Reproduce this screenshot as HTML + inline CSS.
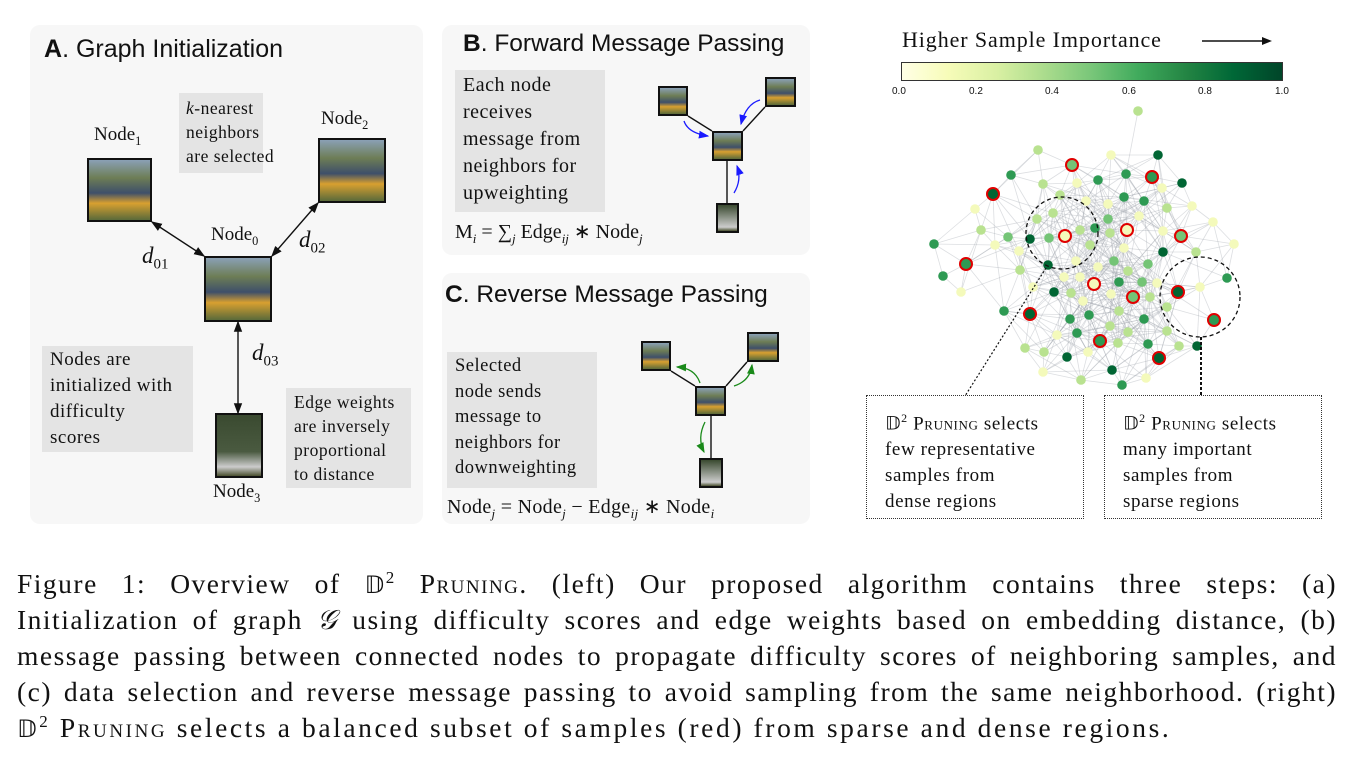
<!DOCTYPE html>
<html><head><meta charset="utf-8"><style>
body{margin:0;width:1353px;height:760px;background:#fff;position:relative;overflow:hidden;font-family:"Liberation Serif",serif;color:#111}
.p{position:absolute;background:#f7f7f7;border-radius:10px}
.a{position:absolute}
.t{position:absolute;font-family:"Liberation Sans",sans-serif;font-size:23.5px;white-space:nowrap}
.g{position:absolute;background:#e4e4e4;font-size:19px;line-height:26px;padding:2px 8px;box-sizing:border-box;white-space:nowrap;letter-spacing:0.5px}
.img{position:absolute;border:2px solid #111;box-sizing:border-box;background:linear-gradient(180deg,#8aa0b5 0%,#6d7d55 30%,#3e4f6a 55%,#d8a030 72%,#5a6a3a 100%)}
.s{font-size:19px;position:absolute;white-space:nowrap}
.d{position:absolute;font-style:italic;font-size:23px}
sub{font-size:65%}
.cap{position:absolute;left:17px;top:566px;width:1320px;font-size:27.5px;line-height:36px;letter-spacing:1.5px}
.cap div{text-align:justify;text-align-last:justify;white-space:nowrap;height:36px;overflow:visible}
.cap sup{line-height:0;vertical-align:0.6em}
.dd{font-family:'DejaVu Sans';font-size:24px;line-height:0}
.sc{font-variant:small-caps}
.box{position:absolute;border:1.5px dotted #333;font-size:19px;line-height:26px;padding:9px 0 0 18px;box-sizing:border-box;white-space:nowrap;letter-spacing:0.6px}
</style></head><body>
<div class="p" style="left:30px;top:25px;width:393px;height:499px"></div>
<div class="p" style="left:442px;top:25px;width:368px;height:230px"></div>
<div class="p" style="left:442px;top:273px;width:368px;height:251px"></div>

<div class="t" style="left:44px;top:35px;font-size:25px"><b>A</b>. Graph Initialization</div>
<div class="t" style="left:463px;top:30px;font-size:24.5px"><b>B</b>. Forward Message Passing</div>
<div class="t" style="left:445px;top:281px;font-size:24.5px"><b>C</b>. Reverse Message Passing</div>

<svg class="a" style="left:0;top:0" width="1353" height="560">
<defs>
<marker id="ak" markerWidth="8" markerHeight="8" refX="7" refY="4" orient="auto-start-reverse"><path d="M0,1 L8,4 L0,7 z" fill="#111"/></marker>
<marker id="ab" markerWidth="8" markerHeight="8" refX="7" refY="4" orient="auto"><path d="M0,1 L8,4 L0,7 z" fill="#1a1aff"/></marker>
<marker id="ag" markerWidth="8" markerHeight="8" refX="7" refY="4" orient="auto"><path d="M0,1 L8,4 L0,7 z" fill="#1a8a1a"/></marker>
</defs>
<g stroke="#111" stroke-width="1.4" fill="none">
<line x1="152" y1="222" x2="204" y2="256" marker-start="url(#ak)" marker-end="url(#ak)"/>
<line x1="318" y1="203" x2="272" y2="256" marker-start="url(#ak)" marker-end="url(#ak)"/>
<line x1="238" y1="322" x2="238" y2="413" marker-start="url(#ak)" marker-end="url(#ak)"/>
<line x1="688" y1="116" x2="712" y2="131"/><line x1="765" y1="107" x2="743" y2="131"/><line x1="727" y1="161" x2="727" y2="203"/>
<line x1="671" y1="371" x2="695" y2="386"/><line x1="747" y1="362" x2="726" y2="386"/><line x1="711" y1="416" x2="711" y2="458"/>
</g>
<g stroke="#1a1aff" stroke-width="1.3" fill="none">
<path d="M684,121 Q688,133 708,136" marker-end="url(#ab)"/>
<path d="M760,100 Q746,104 741,124" marker-end="url(#ab)"/>
<path d="M734,193 Q742,180 737,166" marker-end="url(#ab)"/>
</g>
<g stroke="#1a8a1a" stroke-width="1.3" fill="none">
<path d="M700,383 Q695,368 677,367" marker-end="url(#ag)"/>
<path d="M734,386 Q750,381 752,365" marker-end="url(#ag)"/>
<path d="M705,422 Q697,438 704,452" marker-end="url(#ag)"/>
</g>
</svg>

<div class="img" style="left:87px;top:158px;width:65px;height:64px"></div>
<div class="img" style="left:318px;top:138px;width:68px;height:65px"></div>
<div class="img" style="left:204px;top:256px;width:68px;height:66px"></div>
<div class="img" style="left:215px;top:413px;width:48px;height:65px;background:linear-gradient(#3a4a30,#4a5a40 60%,#ccc 85%,#4a5030)"></div>
<div class="img" style="left:658px;top:86px;width:30px;height:30px"></div>
<div class="img" style="left:765px;top:77px;width:31px;height:30px"></div>
<div class="img" style="left:712px;top:131px;width:31px;height:30px"></div>
<div class="img" style="left:716px;top:203px;width:23px;height:30px;background:linear-gradient(#3a4a30,#ccc 85%,#4a5030)"></div>
<div class="img" style="left:641px;top:341px;width:30px;height:30px"></div>
<div class="img" style="left:747px;top:332px;width:32px;height:30px"></div>
<div class="img" style="left:695px;top:386px;width:31px;height:30px"></div>
<div class="img" style="left:699px;top:458px;width:24px;height:30px;background:linear-gradient(#3a4a30,#ccc 85%,#4a5030)"></div>

<div class="s" style="left:94px;top:124px">Node<sub>1</sub></div>
<div class="s" style="left:321px;top:108px">Node<sub>2</sub></div>
<div class="s" style="left:211px;top:224px">Node<sub>0</sub></div>
<div class="s" style="left:213px;top:481px">Node<sub>3</sub></div>
<div class="d" style="left:142px;top:243px">d<sub style="font-style:normal">01</sub></div>
<div class="d" style="left:299px;top:227px">d<sub style="font-style:normal">02</sub></div>
<div class="d" style="left:252px;top:340px">d<sub style="font-style:normal">03</sub></div>

<div class="g" style="left:179px;top:93px;width:84px;height:80px;font-size:17.5px;line-height:24px;padding:3px 7px"><i>k</i>-nearest<br>neighbors<br>are selected</div>
<div class="g" style="left:42px;top:346px;width:151px;height:106px;line-height:26px;padding-top:1px">Nodes are<br>initialized with<br>difficulty<br>scores</div>
<div class="g" style="left:286px;top:388px;width:125px;height:100px;font-size:17.5px;line-height:24px">Edge weights<br>are inversely<br>proportional<br>to distance</div>
<div class="g" style="left:455px;top:70px;width:150px;height:142px;font-size:20px;line-height:27px">Each node<br>receives<br>message from<br>neighbors for<br>upweighting</div>
<div class="g" style="left:447px;top:352px;width:150px;height:136px;font-size:18.5px;line-height:25.5px">Selected<br>node sends<br>message to<br>neighbors for<br>downweighting</div>
<div class="s" style="left:455px;top:219px;font-size:20px">M<sub><i>i</i></sub> = ∑<sub><i>j</i></sub> Edge<sub><i>ij</i></sub> ∗ Node<sub><i>j</i></sub></div>
<div class="s" style="left:447px;top:494px;font-size:20px;letter-spacing:0.3px">Node<sub><i>j</i></sub> = Node<sub><i>j</i></sub> − Edge<sub><i>ij</i></sub> ∗ Node<sub><i>i</i></sub></div>

<div class="s" style="left:902px;top:27px;font-size:22px;letter-spacing:0.9px">Higher Sample Importance</div>
<svg class="a" style="left:1200px;top:34px" width="75" height="14"><line x1="2" y1="7" x2="66" y2="7" stroke="#111" stroke-width="1.5"/><path d="M62,3 L72,7 L62,11 z" fill="#111"/></svg>
<div class="a" style="left:901px;top:62px;width:382px;height:19px;border:1px solid #333;box-sizing:border-box;background:linear-gradient(90deg,#ffffe5,#f7fcb9 12%,#d9f0a3 25%,#addd8e 37%,#78c679 50%,#41ab5d 62%,#238443 75%,#006837 87%,#004529)"></div>
<div class="a" style="left:0;top:86px;font-family:'Liberation Sans',sans-serif;font-size:10px">
<span class="a" style="left:892px">0.0</span><span class="a" style="left:969px">0.2</span><span class="a" style="left:1045px">0.4</span><span class="a" style="left:1122px">0.6</span><span class="a" style="left:1198px">0.8</span><span class="a" style="left:1275px">1.0</span></div>

<svg id="gr" class="a" style="left:0;top:0" width="1353" height="560">
<g id="edges" stroke="#9aa0a8" stroke-opacity="0.35" stroke-width="0.8"></g>
<g id="nodes"></g>
<circle cx="1062" cy="233" r="36" fill="none" stroke="#111" stroke-width="1.3" stroke-dasharray="4,3"/>
<circle cx="1200" cy="297" r="40" fill="none" stroke="#111" stroke-width="1.3" stroke-dasharray="4,3"/>
<line x1="1046" y1="268" x2="965" y2="396" stroke="#111" stroke-width="1.2" stroke-dasharray="2,2"/>
<line x1="1201" y1="337" x2="1201" y2="396" stroke="#111" stroke-width="2" stroke-dasharray="3,2"/>
</svg>
<div class="box" style="left:866px;top:395px;width:218px;height:124px"><span style="font-family:'DejaVu Sans'">𝔻</span><sup style="font-size:12px">2</sup> <span class="sc">Pruning</span> selects<br>few representative<br>samples from<br>dense regions</div>
<div class="box" style="left:1104px;top:395px;width:218px;height:124px"><span style="font-family:'DejaVu Sans'">𝔻</span><sup style="font-size:12px">2</sup> <span class="sc">Pruning</span> selects<br>many important<br>samples from<br>sparse regions</div>

<div class="cap">
<div>Figure 1: Overview of <span class="dd">𝔻</span><sup style="font-size:17px">2</sup> <span class="sc">Pruning</span>. (left) Our proposed algorithm contains three steps: (a)</div>
<div>Initialization of graph <i>𝒢</i> using difficulty scores and edge weights based on embedding distance, (b)</div>
<div>message passing between connected nodes to propagate difficulty scores of neighboring samples, and</div>
<div>(c) data selection and reverse message passing to avoid sampling from the same neighborhood. (right)</div>
<div style="text-align-last:left;letter-spacing:2.6px"><span class="dd">𝔻</span><sup style="font-size:17px">2</sup> <span class="sc">Pruning</span> selects a balanced subset of samples (red) from sparse and dense regions.</div>
</div>

<script>
var C={y:"#f4fabb",l:"#b9e290",m:"#74c476",n:"#2e9a53",d:"#006533"};
var N=[[1138,111,"l"],[1038,150,"l"],[1111,155,"y"],[1158,155,"d"],[1072,165,"m",1],[1011,175,"n"],[1152,177,"n",1],[1098,180,"n"],[1126,174,"n"],[1043,184,"l"],[1077,183,"y"],[1182,183,"d"],[993,194,"d",1],[1162,188,"y"],[1060,195,"l"],[1124,197,"n"],[1144,201,"n"],[975,209,"y"],[1086,201,"y"],[1108,204,"y"],[1053,213,"l"],[1167,208,"l"],[1192,206,"y"],[1037,219,"l"],[1108,219,"m"],[1139,216,"y"],[1213,222,"y"],[981,230,"l"],[1008,237,"m"],[1030,239,"d"],[1049,238,"m"],[1065,236,"y",1],[1080,230,"l"],[1095,228,"n"],[1110,233,"l"],[1127,230,"y",1],[1163,231,"y"],[1181,236,"m",1],[934,244,"n"],[995,245,"y"],[1019,251,"y"],[1090,245,"l"],[1124,248,"y"],[1163,252,"d"],[1234,244,"y"],[1196,252,"l"],[966,264,"n",1],[1048,265,"d"],[1076,261,"y"],[1114,261,"m"],[1148,264,"m"],[1098,267,"y"],[943,276,"n"],[1020,270,"l"],[1064,277,"y"],[1080,277,"y"],[1128,271,"l"],[1119,282,"n"],[1142,282,"m"],[1094,284,"y",1],[1227,278,"n"],[1157,283,"y"],[1200,287,"y"],[1178,292,"d",1],[961,292,"y"],[1033,287,"y"],[1054,292,"d"],[1071,293,"l"],[1133,297,"m",1],[1111,294,"y"],[1150,297,"l"],[1083,301,"y"],[1167,307,"l"],[1004,311,"n"],[1030,314,"d",1],[1089,315,"n"],[1119,311,"l"],[1070,319,"n"],[1144,319,"n"],[1214,320,"n",1],[1110,326,"l"],[1057,335,"y"],[1077,333,"n"],[1128,332,"l"],[1167,331,"l"],[1100,341,"n",1],[1118,343,"l"],[1148,344,"n"],[1179,346,"l"],[1197,346,"d"],[1025,348,"l"],[1044,352,"l"],[1067,357,"d"],[1088,352,"y"],[1159,358,"d",1],[1112,370,"d"],[1043,372,"y"],[1081,380,"l"],[1122,385,"n"],[1146,378,"y"]];
var ns="http://www.w3.org/2000/svg",E=document.getElementById("edges"),G=document.getElementById("nodes");
for(var i=0;i<N.length;i++)for(var j=i+1;j<N.length;j++){var dx=N[i][0]-N[j][0],dy=N[i][1]-N[j][1],d=Math.sqrt(dx*dx+dy*dy);var r=(i*7+j*13)%10;if(d<70&&r<5||d<40){var l=document.createElementNS(ns,"line");l.setAttribute("x1",N[i][0]);l.setAttribute("y1",N[i][1]);l.setAttribute("x2",N[j][0]);l.setAttribute("y2",N[j][1]);E.appendChild(l);}}
N.forEach(function(n){var c=document.createElementNS(ns,"circle");c.setAttribute("cx",n[0]);c.setAttribute("cy",n[1]);c.setAttribute("r",4.8);c.setAttribute("fill",C[n[2]]);if(n[3]){c.setAttribute("stroke","#e00000");c.setAttribute("stroke-width","2");c.setAttribute("r","6");}G.appendChild(c);});
</script>
</body></html>
